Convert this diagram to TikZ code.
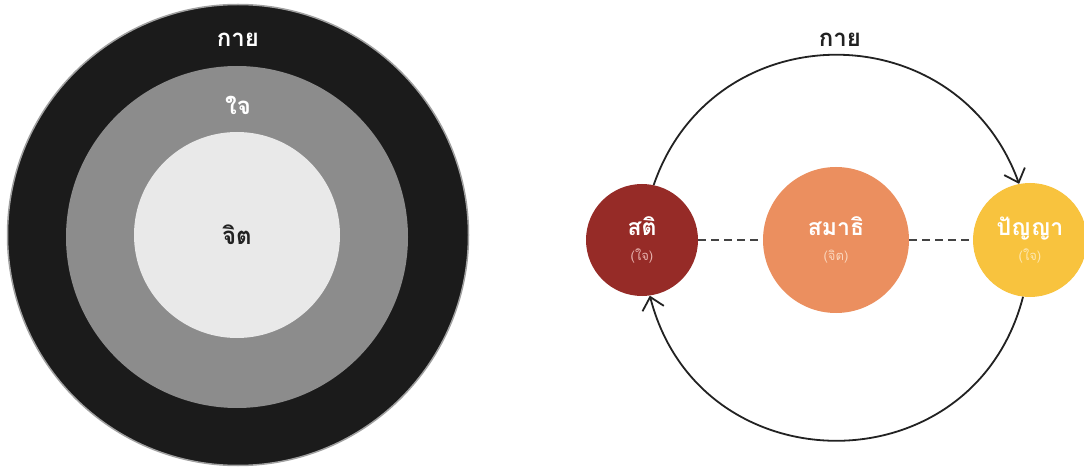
\documentclass[tikz,border=0pt]{standalone}
\usepackage{fontspec}
\newfontfamily\thaifont[Script=Thai]{Loma}
\usetikzlibrary{arrows.meta, positioning}
\definecolor{bodyBlack}{HTML}{1B1B1B}
\definecolor{rimGrey}{HTML}{A0A0A0}
\definecolor{mindGrey}{HTML}{8C8C8C}
\definecolor{heartLight}{HTML}{E9E9E9}
\definecolor{inkBlack}{HTML}{222222}
\definecolor{satiRed}{HTML}{962B27}
\definecolor{samadhiOrange}{HTML}{EB8F5F}
\definecolor{panyaYellow}{HTML}{F8C33E}
\definecolor{satiSub}{HTML}{E8B4B0}
\definecolor{samadhiSub}{HTML}{FAD6BC}
\definecolor{panyaSub}{HTML}{FDE8B4}

\begin{document}
\begin{tikzpicture}[
  font=\thaifont,
  x=1pt, y=1pt,
  ring/.style={circle, fill=#1, inner sep=0pt},
  lbl/.style={font=\thaifont\fontsize{24}{26}\selectfont\bfseries, text=#1, inner sep=1pt},
  stage/.style={
    circle, fill=#1, inner sep=0pt, align=center, text=white,
    font=\thaifont\fontsize{23}{25}\selectfont\bfseries,
  },
  link/.style={draw=inkBlack!85, line width=1.4pt, dash pattern=on 8pt off 5pt},
  cycle/.style={-{Straight Barb[length=12pt, width=22pt, line width=1.8pt]}, draw=inkBlack, line width=1.8pt},
]

\path[use as bounding box, fill=white] (0,0) rectangle (1084,469);

% nested circles
\node[ring=bodyBlack, draw=rimGrey, line width=1.5pt, minimum size=461pt] (kay) at (238,234) {};
\node[ring=mindGrey, minimum size=342pt] (jai) at (237,232) {};
\node[ring=heartLight, minimum size=206pt, lbl=inkBlack] (jit) at (237,234) {จิต};
\node[lbl=white] (kayText) at (238,429) {กาย};
\node[lbl=white] (jaiText) at (238,364) {ใจ};

% the three trainings
\node[stage=satiRed, minimum size=112pt]       (sati)    at (642,229)  {สติ\\[0pt] \textcolor{satiSub}{\fontsize{13}{15}\selectfont\mdseries (ใจ)}};
\node[stage=samadhiOrange, minimum size=146pt] (samadhi) at (836,229)  {สมาธิ\\[0pt] \textcolor{samadhiSub}{\fontsize{13}{15}\selectfont\mdseries (จิต)}};
\node[stage=panyaYellow, minimum size=114pt]   (panya)   at (1030,229) {ปัญญา\\[0pt] \textcolor{panyaSub}{\fontsize{13}{15}\selectfont\mdseries (ใจ)}};
\node[lbl=inkBlack] (kayTop) at (840,429) {กาย};

\draw[link] (sati) -- (samadhi);
\draw[link] (samadhi) -- (panya);

\draw[cycle] (sati.78) to[out=71, in=110, looseness=1.28] (panya.101);
\draw[cycle] (panya.263) to[out=-104.5, in=-75.6, looseness=1.36] (sati.278);

\end{tikzpicture}
\end{document}
